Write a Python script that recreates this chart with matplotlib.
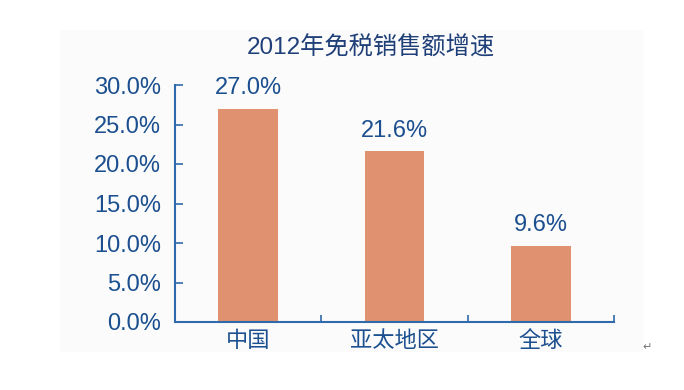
import matplotlib
matplotlib.use("Agg")
import matplotlib.pyplot as plt
from matplotlib.patches import Rectangle
from matplotlib.ticker import FuncFormatter, MultipleLocator, FixedLocator

categories = ["中国", "亚太地区", "全球"]
values = [27.0, 21.6, 9.6]
title = "2012年免税销售额增速"

BAR = "#E09270"
AXIS = "#2F6AAA"
TEXT = "#1B4F8F"

fig = plt.figure(figsize=(6.84, 3.90), dpi=100)
fig.patch.set_facecolor("white")
fig.add_artist(Rectangle((60/684, 1-352/390), (643-60)/684, (352-30)/390,
                         transform=fig.transFigure, facecolor="#FBFBFB",
                         edgecolor="none", zorder=0))

ax = fig.add_axes([175/684, 1-322/390, (614-175)/684, (322-85)/390])
ax.patch.set_alpha(0)
x = list(range(len(categories)))
ax.bar(x, values, width=0.41, color=BAR, zorder=2)
ax.set_xlim(-0.5, len(categories) - 0.5)
ax.set_ylim(0, 30)

for s in ["top", "right"]:
    ax.spines[s].set_visible(False)
for s in ["left", "bottom"]:
    ax.spines[s].set_color(AXIS)
    ax.spines[s].set_linewidth(1.5)

ax.yaxis.set_major_locator(MultipleLocator(5))
ax.yaxis.set_major_formatter(FuncFormatter(lambda v, p: f"{v:.1f}%"))
ax.tick_params(axis="y", direction="in", length=6, width=1.2, color=AXIS,
               labelcolor=TEXT, labelsize=17, pad=10)
for lab in ax.get_yticklabels():
    lab.set_family(["Liberation Sans", "DejaVu Sans"])

ax.xaxis.set_major_locator(FixedLocator([-0.5, 0.5, 1.5, 2.5]))
ax.xaxis.set_major_formatter(FuncFormatter(lambda v, p: ""))
ax.tick_params(axis="x", which="major", direction="in", length=5, width=1.2, color=AXIS)
ax.set_xticks(x, minor=True)
ax.set_xticklabels(categories, minor=True, family=["Noto Sans CJK SC", "DejaVu Sans"],
                   fontsize=16, color=TEXT)
ax.tick_params(axis="x", which="minor", length=0, pad=5)

for xi, v in zip(x, values):
    ax.annotate(f"{v:.1f}%", (xi, v), xytext=(0, 7), textcoords="offset points",
                ha="center", va="bottom", fontsize=17, color=TEXT,
                family=["Liberation Sans", "DejaVu Sans"])

fig.text(371/684, 1-48/390, title, ha="center", va="center", fontsize=17.5,
         color="#1F3F78", family=["Liberation Sans", "Noto Sans CJK SC"])
fig.text(647/684, 1-347/390, "↵", ha="center", va="center", fontsize=8,
         color="#777777", family=["DejaVu Sans"])

fig.savefig("out.png", dpi=100)
